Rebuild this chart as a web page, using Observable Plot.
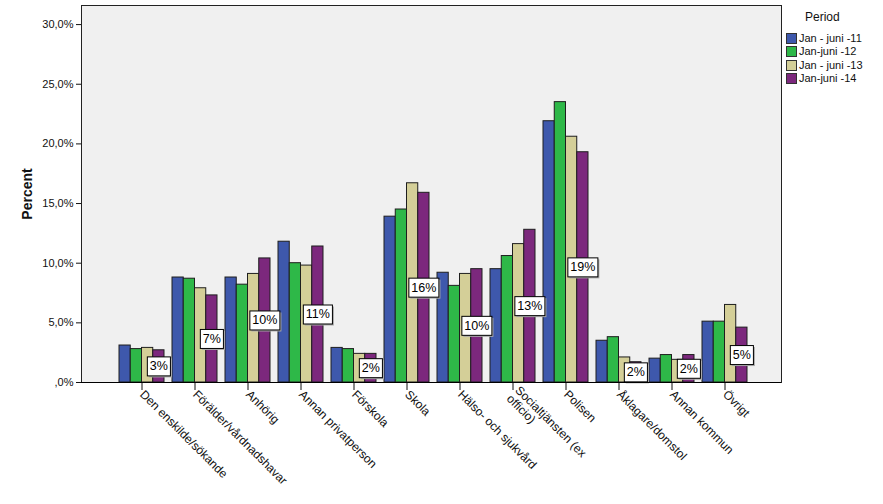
<!DOCTYPE html>
<html><head><meta charset="utf-8">
<script src="https://cdn.jsdelivr.net/npm/d3@7"></script>
<script src="https://cdn.jsdelivr.net/npm/@observablehq/plot@0.6"></script>
<style>
body{margin:0;background:#fff;font-family:"Liberation Sans",Arial,sans-serif}
#wrap{position:relative;width:883px;height:504px;overflow:hidden}
.leg{position:absolute;font-size:11px;color:#111;white-space:nowrap;line-height:12px}
.sw{position:absolute;width:9px;height:9px;border:1px solid #333}
</style></head><body><div id="wrap"></div>
<script>
const categories = ["Den enskilde/sökande","Förälder/vårdnadshavare","Anhörig","Annan privatperson","Förskola","Skola","Hälso- och sjukvård","Socialtjänsten (ex officio)","Polisen","Åklagare/domstol","Annan kommun","Övrigt"];
const categoryLabels = ["Den enskilde/sökande","Förälder/vårdnadshavar","Anhörig","Annan privatperson","Förskola","Skola","Hälso- och sjukvård","Socialtjänsten (ex\nofficio)","Polisen","Åklagare/domstol","Annan kommun","Övrigt"];
const periods = ["Jan - juni -11","Jan-juni -12","Jan - juni -13","Jan-juni -14"];
const colors = ["#3e58ac","#2eb848","#d4cf98","#7c287d"];
const p11 = [3.1, 8.8, 8.8, 11.8, 2.9, 13.9, 9.2, 9.5, 21.9, 3.5, 2.0, 5.1];
const p12 = [2.8, 8.7, 8.2, 10.0, 2.8, 14.5, 8.1, 10.6, 23.5, 3.8, 2.3, 5.1];
const p13 = [2.9, 7.9, 9.1, 9.8, 2.4, 16.7, 9.1, 11.6, 20.6, 2.1, 1.9, 6.5];
const p14 = [2.7, 7.3, 10.4, 11.4, 2.4, 15.9, 9.5, 12.8, 19.3, 1.7, 2.3, 4.6];
const yTicks = [0, 5, 10, 15, 20, 25, 30];

const series = [p11, p12, p13, p14];
const tables = series.map((vals, k) => categories.map((c, i) => ({cat: c, period: periods[k], v: vals[i]})));
const labelOf = Object.fromEntries(categories.map((c, i) => [c, categoryLabels[i]]));

const bw = 45, q = bw / 4;
const fmtY = d => d === 0 ? ",0%" : d.toFixed(1).replace(".", ",") + "%";

const chart = Plot.plot({
  width: 883, height: 504,
  marginLeft: 81, marginRight: 102, marginTop: 5, marginBottom: 122,
  style: {fontFamily: "'Liberation Sans', Arial, sans-serif", color: "#111", background: "transparent"},
  x: {type: "band", domain: categories, range: [117, 748.7], paddingInner: 0.156, paddingOuter: 0},
  y: {domain: [0, 31.6]},
  marks: [
    Plot.frame({fill: "#f0f0f0", stroke: "#222"}),
    ...tables.map((t, k) => Plot.barY(t, {x: "cat", y: "v", fill: colors[k], stroke: "#1e1e1e", strokeWidth: 1, insetLeft: k * q, insetRight: (3 - k) * q})),
    Plot.text(tables[3], {x: "cat", y: d => d.v / 2, text: d => Math.round(d.v) + "%", dx: 1.5 * q, fontSize: 12.5, fill: "#000", className: "vlab"}),
    Plot.axisY({ticks: yTicks, tickSize: 5, tickPadding: 3, fontSize: 11, tickFormat: fmtY, label: null}),
    Plot.axisY({ticks: [], tickSize: 0, label: "Percent", labelArrow: "none", labelAnchor: "center", labelOffset: 59, fontSize: 14, fontWeight: "bold"}),
    Plot.axisX({tickSize: 8, tickRotate: 45, tickPadding: 2, fontSize: 12, tickFormat: d => labelOf[d], label: null}),
    Plot.ruleY([0], {stroke: "#000"})
  ]
});
const wrap = document.getElementById("wrap");
wrap.appendChild(chart);

// boxes behind value labels
document.querySelectorAll(".vlab text").forEach(t => {
  const b = t.getBBox();
  const ns = "http://www.w3.org/2000/svg";
  const tr = t.getAttribute("transform") || "";
  const px = 2.5, py = 2.5;
  const sh = document.createElementNS(ns, "rect");
  sh.setAttribute("x", b.x - px + 1.5); sh.setAttribute("y", b.y - py + 1.5);
  sh.setAttribute("width", b.width + 2 * px); sh.setAttribute("height", b.height + 2 * py);
  sh.setAttribute("fill", "#aaa"); sh.setAttribute("transform", tr);
  const r = document.createElementNS(ns, "rect");
  r.setAttribute("x", b.x - px); r.setAttribute("y", b.y - py);
  r.setAttribute("width", b.width + 2 * px); r.setAttribute("height", b.height + 2 * py);
  r.setAttribute("fill", "#fff"); r.setAttribute("stroke", "#000"); r.setAttribute("transform", tr);
  t.parentNode.insertBefore(sh, t);
  t.parentNode.insertBefore(r, t);
});

// legend
const title = document.createElement("div");
title.className = "leg"; title.style.left = "805px"; title.style.top = "11px"; title.style.fontSize = "12px";
title.textContent = "Period";
wrap.appendChild(title);
periods.forEach((p, i) => {
  const top = 33 + i * 13.3;
  const sw = document.createElement("div");
  sw.className = "sw"; sw.style.left = "786px"; sw.style.top = top + "px"; sw.style.background = colors[i];
  wrap.appendChild(sw);
  const tx = document.createElement("div");
  tx.className = "leg"; tx.style.left = "799px"; tx.style.top = (top - 1) + "px";
  tx.textContent = p;
  wrap.appendChild(tx);
});
</script></body></html>
